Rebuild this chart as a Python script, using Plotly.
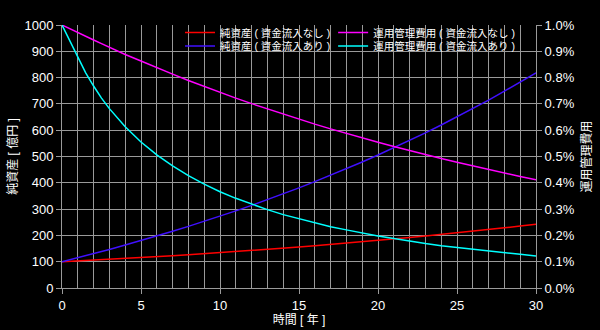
import plotly.graph_objects as go

years = [0, 0.5, 1, 1.5, 2, 2.5, 3, 4, 5, 6, 7, 8, 9, 10, 11, 12, 13, 14, 15,
         16, 17, 18, 19, 20, 21, 22, 23, 24, 25, 26, 27, 28, 29, 30]

nav_no_inflow = [100, 101.5, 103.0, 104.5, 106.1, 107.7, 109.3, 112.6, 115.9, 119.4,
                 123.0, 126.7, 130.5, 134.4, 138.4, 142.6, 146.9, 151.3, 155.8, 160.5,
                 165.3, 170.2, 175.4, 180.6, 186.0, 191.6, 197.4, 203.3, 209.4, 215.7,
                 222.1, 228.8, 235.7, 242.0]

nav_inflow = [100, 107.5, 115.1, 122.8, 130.7, 138.6, 146.7, 163.2, 180.1, 197.7,
              215.7, 234.3, 253.4, 273.1, 293.4, 314.3, 335.9, 358.0, 380.8, 404.4,
              428.6, 453.5, 479.3, 505.7, 532.9, 561.1, 590.0, 619.8, 650.5, 682.1,
              714.6, 748.2, 782.8, 818.3]

fee_no_inflow = [1.0, 0.985, 0.971, 0.957, 0.943, 0.929, 0.915, 0.888, 0.863, 0.837,
                 0.813, 0.789, 0.766, 0.744, 0.722, 0.701, 0.681, 0.661, 0.642, 0.623,
                 0.605, 0.587, 0.570, 0.554, 0.538, 0.522, 0.507, 0.492, 0.478, 0.464,
                 0.450, 0.437, 0.424, 0.412]

fee_inflow = [1.0, 0.940, 0.880, 0.818, 0.768, 0.722, 0.682, 0.613, 0.555, 0.506,
              0.464, 0.427, 0.395, 0.366, 0.341, 0.318, 0.298, 0.279, 0.263, 0.247,
              0.233, 0.221, 0.209, 0.198, 0.188, 0.178, 0.169, 0.161, 0.154, 0.147,
              0.140, 0.134, 0.128, 0.122]

names = ["純資産 ( 資金流入なし )", "運用管理費用 ( 資金流入なし )",
         "純資産 ( 資金流入あり )", "運用管理費用 ( 資金流入あり )"]
colors = ["#ff0000", "#ff00ff", "#4010ff", "#00ffff"]

FONT = "Liberation Sans, Arial, Noto Sans CJK JP, sans-serif"
GRID = "#9a9a9a"

series = [(nav_no_inflow, "y", "legend"), (fee_no_inflow, "y2", "legend2"),
          (nav_inflow, "y", "legend3"), (fee_inflow, "y2", "legend4")]

fig = go.Figure()
for (vals, yax, leg), nm, col in zip(series, names, colors):
    fig.add_trace(go.Scatter(x=years, y=vals, name=nm, mode="lines",
                             line=dict(color=col, width=1.5), yaxis=yax,
                             legend=leg))

col_x = [0.249, 0.572]
row_y = [0.9715, 0.920]

def leg(cx, ry):
    return dict(x=cx, y=ry, xanchor="left", yanchor="middle",
                bgcolor="rgba(0,0,0,0)", font=dict(size=10.5, color="white"),
                itemwidth=30, borderwidth=0)

fig.update_layout(
    width=600, height=330,
    margin=dict(l=62, r=64, t=25, b=42),
    paper_bgcolor="black", plot_bgcolor="black",
    font=dict(family=FONT, color="white", size=13),
    showlegend=True,
    legend=leg(col_x[0], row_y[0]),
    legend2=leg(col_x[1], row_y[0]),
    legend3=leg(col_x[0], row_y[1]),
    legend4=leg(col_x[1], row_y[1]),
    xaxis=dict(range=[0, 30], dtick=5, tick0=0, showgrid=True, gridcolor=GRID,
               gridwidth=1, zeroline=False, showline=True, linecolor=GRID,
               ticks="outside", ticklen=5, tickcolor=GRID, automargin=False,
               minor=dict(dtick=1, showgrid=True, gridcolor=GRID, gridwidth=1),
               title=dict(text="時間 [ 年 ]", standoff=2, font=dict(size=12))),
    yaxis=dict(range=[0, 1000], dtick=100, showgrid=True, gridcolor=GRID,
               zeroline=False, showline=True, linecolor=GRID, automargin=False,
               ticks="outside", ticklen=5, tickcolor=GRID,
               title=dict(text="純資産 [ 億円 ]", standoff=4, font=dict(size=12))),
    yaxis2=dict(range=[0, 1.0], dtick=0.1, tickformat=".1f", ticksuffix="%",
                overlaying="y", side="right", showgrid=False, zeroline=False,
                showline=True, linecolor=GRID, ticks="outside", ticklen=5,
                tickcolor=GRID, automargin=False,
                title=dict(text="運用管理費用", standoff=8, font=dict(size=12))),
)

fig.write_html("out.html")
